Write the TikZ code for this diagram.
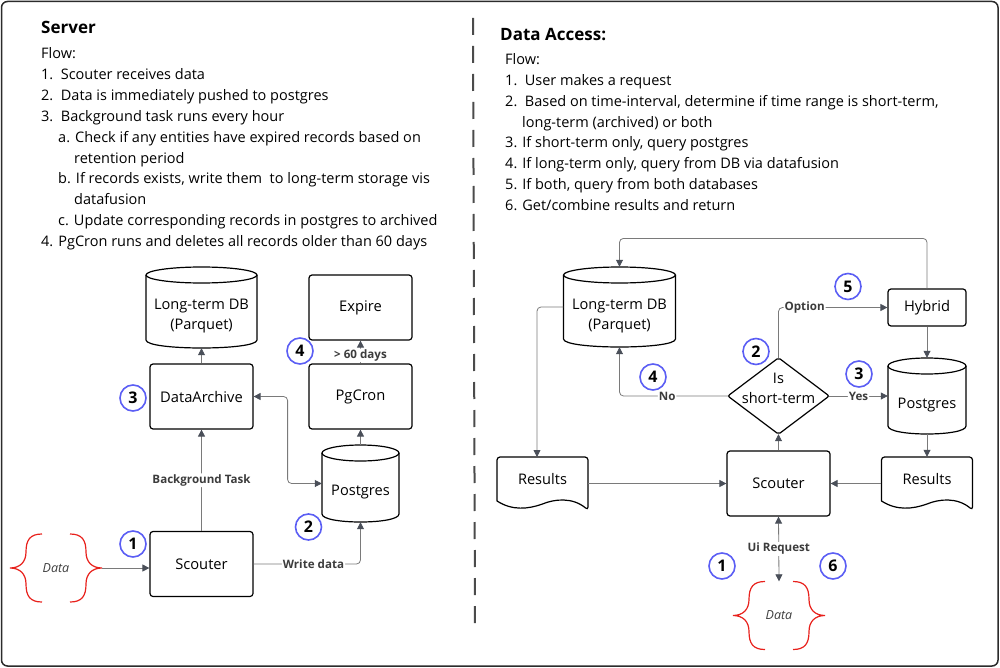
\documentclass[tikz,border=0pt]{standalone}
\usepackage{fontspec}
\setmainfont{Open Sans}
\usetikzlibrary{arrows.meta,calc}
\definecolor{circblue}{HTML}{5B5EF4}
\definecolor{linegray}{HTML}{7A7A7A}
\definecolor{tipgray}{HTML}{4A4F59}
\definecolor{labelgray}{HTML}{3C3C3C}
\definecolor{bracered}{HTML}{E8211C}
\definecolor{framegray}{HTML}{2B2B2B}
\newcommand\cylout[4]{% cx, top, w, h
  \draw[shp] (#1,#2+8) ellipse [x radius=#3/2, y radius=8];
  \draw[shp] (#1-#3/2,#2+8) -- (#1-#3/2,#2+#4-8) .. controls (#1-#3/2,#2+#4+8/3) and (#1+#3/2,#2+#4+8/3) .. (#1+#3/2,#2+#4-8) -- (#1+#3/2,#2+8);
}
\newcommand\docout[2]{% cx, top
  \draw[shp, rounded corners=3pt] (#1-45.5,#2+44) -- (#1-45.5,#2) -- (#1+45.5,#2) -- (#1+45.5,#2+53) [sharp corners] .. controls (#1+30,#2+40) and (#1+12,#2+42) .. (#1,#2+47) .. controls (#1-14,#2+52) and (#1-30,#2+54) .. (#1-45.5,#2+44);
}
\newcommand\databrace[2]{% cx, cy
  \draw[bracered, line width=1.2pt] (#1-14,#2-34) .. controls (#1-26,#2-34) and (#1-30,#2-28) .. (#1-30,#2-16) .. controls (#1-30,#2-6) and (#1-36,#2) .. (#1-46,#2) .. controls (#1-36,#2) and (#1-30,#2+6) .. (#1-30,#2+16) .. controls (#1-30,#2+28) and (#1-26,#2+34) .. (#1-14,#2+34);
  \draw[bracered, line width=1.2pt] (#1+14,#2-34) .. controls (#1+26,#2-34) and (#1+30,#2-28) .. (#1+30,#2-16) .. controls (#1+30,#2-6) and (#1+36,#2) .. (#1+46,#2) .. controls (#1+36,#2) and (#1+30,#2+6) .. (#1+30,#2+16) .. controls (#1+30,#2+28) and (#1+26,#2+34) .. (#1+14,#2+34);
}
\begin{document}
\begin{tikzpicture}[x=1pt,y=-1pt,
  txt/.style={anchor=base west, inner sep=0, font=\fontsize{14.5}{17}\selectfont},
  ttl/.style={anchor=base west, inner sep=0, font=\bfseries\fontsize{17}{20}\selectfont},
  box/.style={draw=black, line width=1.2pt, rounded corners=3pt, minimum width=103pt, minimum height=65pt, inner sep=0, font=\fontsize{14.7}{18}\selectfont},
  ghost/.style={inner sep=0},
  intxt/.style={inner sep=0, font=\fontsize{14.6}{20}\selectfont, align=center},
  shp/.style={draw=black, line width=1.2pt},
  conn/.style={draw=linegray, line width=0.8pt, rounded corners=4pt, -{Triangle[length=7pt,width=7pt,color=tipgray]}},
  conn2/.style={draw=linegray, line width=0.8pt, rounded corners=4pt, {Triangle[length=7pt,width=7pt,color=tipgray]}-{Triangle[length=7pt,width=7pt,color=tipgray]}},
  lbl/.style={fill=white, inner sep=1pt, font=\bfseries\fontsize{11.6}{13}\selectfont, text=labelgray},
  num/.style={circle, draw=circblue, line width=1.6pt, minimum size=26pt, inner sep=0, font=\bfseries\fontsize{16}{18}\selectfont},
  datatxt/.style={minimum width=92pt, minimum height=68pt, inner sep=0, font=\itshape\fontsize{12.5}{14}\selectfont, text=labelgray}
]
\useasboundingbox (0,0) rectangle (1000,668);
\draw[framegray, line width=1.5pt, rounded corners=6pt] (1.5,1.5) rectangle (998,666);
\draw[framegray!85, line width=2pt, dash pattern=on 17pt off 11pt] (473,18) -- (475,628);

% ---- left text
\node[ttl] (t0) at (41,34) {Server};
\node[txt] (t1) at (41,59) {Flow:};
\node[txt] (t2) at (41,80) {1.~~Scouter receives data};
\node[txt] (t3) at (41,100.8) {2.~~Data is immediately pushed to postgres};
\node[txt] (t4) at (41,121.6) {3.~~Background task runs every hour};
\node[txt] (t5) at (58,142.4) {a. Check if any entities have expired records based on};
\node[txt] (t6) at (74,163.2) {retention period};
\node[txt] (t7) at (58,184) {b. If records exists, write them~ to long-term storage vis};
\node[txt] (t8) at (74,204.8) {datafusion};
\node[txt] (t9) at (58,225.6) {c. Update corresponding records in postgres to archived};
\node[txt] (t10) at (41,246.4) {4. PgCron runs and deletes all records older than 60 days};

% ---- right text
\node[ttl] (r0) at (500,41) {Data Access:};
\node[txt] (r1) at (505,64.5) {Flow:};
\node[txt] (r2) at (505,85.5) {1.~~User makes a request};
\node[txt] (r3) at (505,106.3) {2.~~Based on time-interval, determine if time range is short-term,};
\node[txt] (r4) at (522,127.1) {long-term (archived) or both};
\node[txt] (r5) at (505,147.9) {3. If short-term only, query postgres};
\node[txt] (r6) at (505,168.7) {4. If long-term only, query from DB via datafusion};
\node[txt] (r7) at (505,189.5) {5. If both, query from both databases};
\node[txt] (r8) at (505,210.3) {6. Get/combine results and return};

% ---- left diagram
\node[ghost, minimum width=111pt, minimum height=81pt] (dbL) at (201.5,307.5) {};
\cylout{201.5}{267}{111}{81}
\node[intxt] (dbLt) at (201.5,316) {Long-term DB\\(Parquet)};
\node[box] (da) at (201.5,396.5) {DataArchive};
\node[box] (ex) at (360.5,307.5) {Expire};
\node[box] (pc) at (360.5,396.5) {PgCron};
\node[ghost, minimum width=77pt, minimum height=77pt] (pgL) at (360.5,483.5) {};
\cylout{360.5}{445}{77}{77}
\node[intxt] (pgLt) at (360.5,492) {Postgres};
\node[box] (scL) at (201.5,564) {Scouter};
\node[datatxt] (dataL) at (56,568) {Data};
\databrace{56}{568}

\draw[conn] (da.north) -- (dbL.south);
\draw[conn] (pgL.north) -- (pc.south);
\draw[conn] (pc.north) -- node[lbl, pos=0.35] (l60) {> 60 days} (ex.south);
\draw[conn2] (da.east) -- ++(34,0) |- (pgL.west);
\draw[conn] (scL.north) -- node[lbl, pos=0.5] (lbg) {Background Task} (da.south);
\draw[conn] (scL.east) -| node[lbl, pos=0.28] (lwd) {Write data} (pgL.south);
\draw[conn] (dataL.east) -- (dataL.east -| scL.west);

\node[num] (n1L) at (133,544) {1};
\node[num] (n2L) at (308.5,527) {2};
\node[num] (n3L) at (133,398) {3};
\node[num] (n4L) at (300,351) {4};

% ---- right diagram
\node[ghost, minimum width=112pt, minimum height=80pt] (dbR) at (619.5,307) {};
\cylout{619.5}{267}{112}{80}
\node[intxt] (dbRt) at (619.5,316) {Long-term DB\\(Parquet)};
\node[box, minimum width=78pt, minimum height=37pt] (hy) at (927,307.5) {Hybrid};
\node[ghost, minimum width=78pt, minimum height=76pt] (pgR) at (927,396) {};
\cylout{927}{358}{78}{76}
\node[intxt] (pgRt) at (927,405) {Postgres};
\node[ghost, minimum width=101pt, minimum height=76pt] (dia) at (778.5,396) {};
\draw[shp, rounded corners=2pt] (dia.north) -- (dia.east) -- (dia.south) -- (dia.west) -- cycle;
\node[intxt] (diat) at (778.5,388) {Is\\short-term};
\node[box] (scR) at (778.5,483.5) {Scouter};
\node[ghost, minimum width=91pt, minimum height=53pt] (resL) at (542.5,483.5) {};
\docout{542.5}{457}
\node[intxt] (resLt) at (542.5,479) {Results};
\coordinate (resLin) at (537,457);
\node[ghost, minimum width=91pt, minimum height=53pt] (resR) at (927,483.5) {};
\docout{927}{457}
\node[intxt] (resRt) at (927,479) {Results};
\node[datatxt] (dataR) at (779,615.5) {Data};
\databrace{779}{615.5}

\draw[conn] (hy.north) -- ++(0,-50) -| (dbR.north);
\draw[conn] (hy.south) -- (pgR.north);
\draw[conn] (dia.north) |- node[lbl, pos=0.62] (lop) {Option} (hy.west);
\draw[conn] (dia.east) -- node[lbl, pos=0.5] (lyes) {Yes} (pgR.west);
\draw[conn] (dia.west) -| node[lbl, pos=0.28] (lno) {No} (dbR.south);
\draw[conn] (dbR.west) -| (resLin);
\draw[conn] (pgR.south) -- (resR.north);
\draw[conn] (resL.east) -- (scR.west);
\draw[conn] (resR.west) -- (scR.east);
\draw[conn] (scR.north) -- (dia.south);
\draw[conn2] (scR.south) -- node[lbl, pos=0.5] (lui) {Ui Request} (dataR.north);

\node[num] (n1R) at (722,566) {1};
\node[num] (n2R) at (756,351.5) {2};
\node[num] (n3R) at (859,374) {3};
\node[num] (n4R) at (653,377) {4};
\node[num] (n5R) at (848,286.5) {5};
\node[num] (n6R) at (833,566) {6};
\end{tikzpicture}
\end{document}
